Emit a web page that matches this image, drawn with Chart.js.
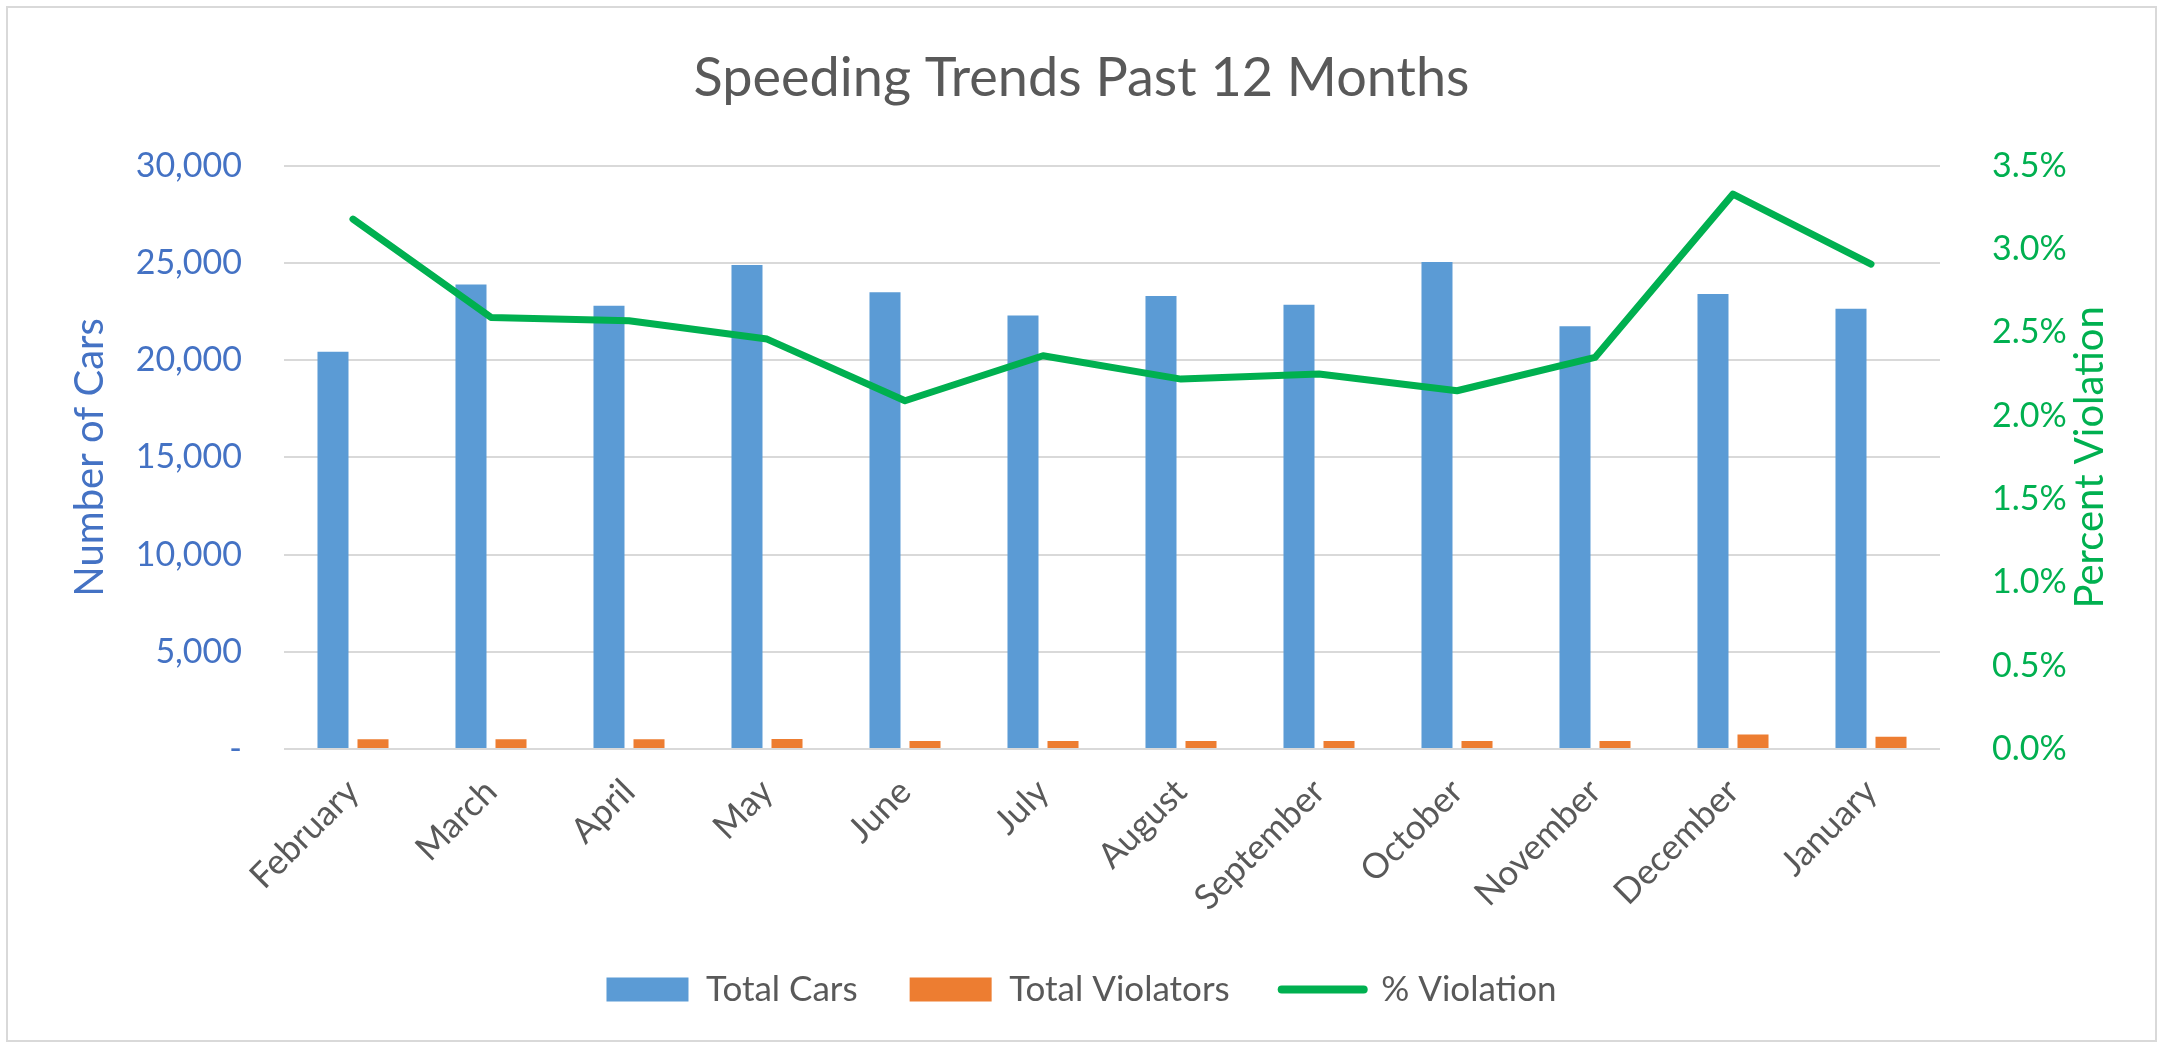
<!DOCTYPE html>
<html><head><meta charset="utf-8">
<script src="https://cdn.jsdelivr.net/npm/chart.js@4.4.1/dist/chart.umd.min.js"></script>
<style>
html,body{margin:0;padding:0;background:#fff;}
#wrap{position:relative;width:2163px;height:1047px;background:#fff;}
#frame{position:absolute;left:6px;top:6px;width:2151px;height:1036px;border:2px solid #D9D9D9;box-sizing:border-box;pointer-events:none;}
canvas{display:block;}
</style></head><body>
<div id="wrap"><canvas id="c" width="2163" height="1047"></canvas><div id="frame"></div></div>
<script>
const categories = ['February','March','April','May','June','July','August','September','October','November','December','January'];
const totalCars = [20430, 23900, 22800, 24900, 23500, 22300, 23300, 22850, 25050, 21750, 23400, 22650];
const totalViolators = [500, 500, 500, 510, 410, 410, 410, 410, 410, 410, 750, 625];
const pctViolation = [3.18, 2.59, 2.57, 2.46, 2.09, 2.36, 2.22, 2.25, 2.15, 2.35, 3.33, 2.91];
const carAxis = {min: 0, max: 30000, step: 5000};
const pctAxis = {min: 0, max: 3.5, step: 0.5};
const rightTitle = 'Percent Violation';

const FONT = 'Lato';

const rightTitlePlugin = {
  id: 'rightTitle',
  afterDraw(chart) {
    const s = chart.scales.yPct;
    const ctx = chart.ctx;
    ctx.save();
    ctx.translate(s.right - 73, (s.top + s.bottom) / 2);
    ctx.rotate(-Math.PI / 2);
    ctx.textAlign = 'center';
    ctx.textBaseline = 'middle';
    ctx.fillStyle = '#00B050';
    ctx.font = '40px ' + FONT;
    ctx.fillText(rightTitle, 0, 0);
    ctx.restore();
  }
};

function make() {
  new Chart(document.getElementById('c'), {
    data: {
      labels: categories,
      datasets: [
        {type: 'line', label: '% Violation', data: pctViolation, yAxisID: 'yPct',
         borderColor: '#00B050', backgroundColor: '#00B050', borderWidth: 7, pointRadius: 0,
         tension: 0, borderCapStyle: 'round', borderJoinStyle: 'round', order: 0},
        {type: 'bar', label: 'Total Cars', data: totalCars, yAxisID: 'yCars',
         backgroundColor: '#5B9BD5', categoryPercentage: 0.58, barPercentage: 0.775, order: 1},
        {type: 'bar', label: 'Total Violators', data: totalViolators, yAxisID: 'yCars',
         backgroundColor: '#ED7D31', categoryPercentage: 0.58, barPercentage: 0.775, order: 1}
      ]
    },
    plugins: [rightTitlePlugin],
    options: {
      responsive: false, animation: false, devicePixelRatio: 1,
      layout: {padding: {left: 0, right: 0, top: 0, bottom: 30}},
      plugins: {
        title: {display: true, text: 'Speeding Trends Past 12 Months', color: '#595959',
          font: {family: FONT, size: 54, weight: 'normal'}, padding: {top: 46, bottom: 55}},
        legend: {position: 'bottom',
          labels: {color: '#595959', font: {family: FONT, size: 35}, padding: 52,
            usePointStyle: true, pointStyleWidth: 82, boxHeight: 24,
            sort: (a, b) => [1,2,0].indexOf(a.datasetIndex) - [1,2,0].indexOf(b.datasetIndex),
            generateLabels(chart) {
              const items = Chart.defaults.plugins.legend.labels.generateLabels(chart);
              items.forEach(it => {
                const ds = chart.data.datasets[it.datasetIndex];
                if (ds.type === 'line') {
                  it.pointStyle = 'line'; it.lineWidth = 8; it.strokeStyle = '#00B050'; it.lineCap = 'round';
                } else {
                  it.pointStyle = 'rect'; it.lineWidth = 0; it.fillStyle = ds.backgroundColor; it.strokeStyle = ds.backgroundColor;
                }
              });
              return items;
            }
          }},
        tooltip: {enabled: false}
      },
      scales: {
        x: {grid: {display: false}, border: {display: false},
          ticks: {color: '#595959', font: {family: FONT, size: 35}, maxRotation: 45, minRotation: 45, padding: 14},
          afterFit(s) { s.height = 171; }},
        yCars: {position: 'left', min: carAxis.min, max: carAxis.max,
          ticks: {stepSize: carAxis.step, color: '#4472C4', font: {family: FONT, size: 34}, padding: 42,
            callback: v => v === 0 ? '-' : v.toLocaleString('en-US')},
          grid: {color: '#D9D9D9', lineWidth: 2, drawTicks: false}, border: {display: false},
          title: {display: true, text: 'Number of Cars', color: '#4472C4', font: {family: FONT, size: 40}, padding: {top: 66, bottom: 0}},
          afterFit(s) { s.width = 284; }},
        yPct: {position: 'right', min: pctAxis.min, max: pctAxis.max,
          ticks: {stepSize: pctAxis.step, color: '#00B050', font: {family: FONT, size: 34}, padding: 44,
            callback: v => v.toFixed(1) + '%'},
          grid: {display: false}, border: {display: false},
          title: {display: false},
          afterFit(s) { s.width = 223; }}
      }
    }
  });
}
Promise.all([document.fonts.load('35px Lato'), document.fonts.load('54px Lato')]).then(make, make);
</script>
</body></html>
